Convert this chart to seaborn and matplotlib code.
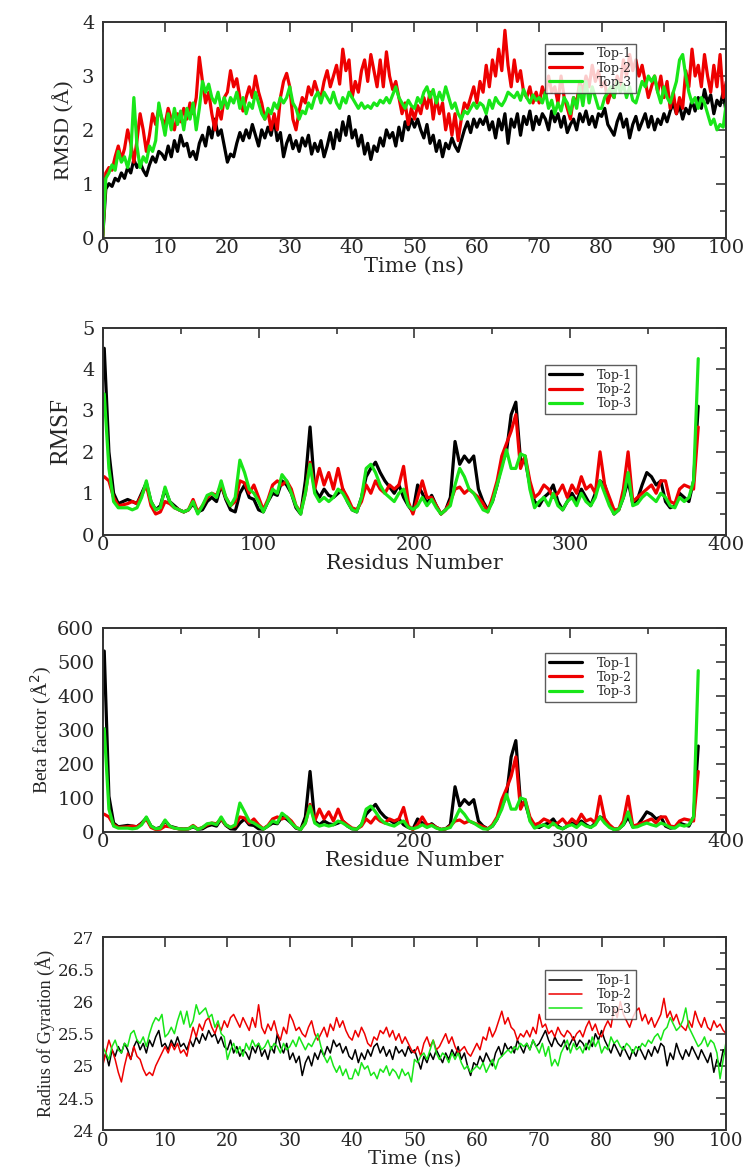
import numpy as np
import pandas as pd
import matplotlib
matplotlib.use("Agg")
import matplotlib.pyplot as plt
from matplotlib.ticker import MultipleLocator, FormatStrFormatter
import seaborn as sns

SERIES = ["Top-1", "Top-2", "Top-3"]
COLORS = {"Top-1": "#000000", "Top-2": "#ee0000", "Top-3": "#19e619"}

# RMSD (A), one value every 0.5 ns from 0 to 100 ns
rmsd_top1 = [
    0.0, 0.9, 1.0, 0.95, 1.1, 1.05, 1.2, 1.1, 1.3, 1.2, 1.45, 1.3, 1.4, 1.25, 1.15, 1.35, 1.5, 1.4, 1.6, 1.55,
    1.45, 1.7, 1.5, 1.8, 1.6, 1.9, 1.7, 1.75, 1.5, 1.6, 1.45, 1.75, 1.9, 1.7, 2.05, 1.85, 2.2, 1.9, 2.0, 1.7,
    1.4, 1.55, 1.5, 1.75, 1.95, 1.8, 2.0, 1.85, 2.1, 1.9, 1.7, 2.0, 1.85, 2.05, 1.9, 2.2, 1.8, 1.95, 1.5, 1.75,
    1.9, 1.65, 1.8, 1.6, 1.85, 1.7, 1.9, 1.55, 1.75, 1.6, 1.8, 1.5, 1.7, 1.95, 1.65, 2.0, 1.8, 2.15, 1.9, 2.25,
    1.85, 2.0, 1.7, 1.9, 1.55, 1.75, 1.45, 1.7, 1.6, 1.85, 1.7, 2.0, 1.85, 1.95, 1.7, 2.05, 1.8, 2.15, 2.0, 2.2,
    2.05, 2.2, 2.0, 1.85, 2.1, 1.75, 1.9, 1.6, 1.8, 1.5, 1.75, 1.65, 1.85, 1.7, 1.6, 1.8, 2.0, 2.15, 1.95, 2.2,
    2.05, 2.2, 2.1, 2.25, 2.0, 2.15, 1.85, 2.2, 2.0, 2.3, 1.75, 2.2, 2.05, 2.3, 1.9, 2.25, 2.1, 2.35, 2.0, 2.25,
    2.1, 2.3, 2.2, 2.0, 2.35, 2.15, 2.3, 2.05, 2.25, 1.95, 2.1, 2.2, 2.0, 2.3, 2.15, 2.35, 2.1, 2.25, 2.05, 2.3,
    2.25, 2.4, 2.1, 2.0, 1.9, 2.15, 2.3, 2.05, 2.2, 1.85, 2.1, 2.25, 2.0, 2.15, 2.3, 2.05, 2.25, 2.0, 2.2, 2.1,
    2.3, 2.15, 2.35, 2.5, 2.3, 2.45, 2.2, 2.4, 2.3, 2.55, 2.35, 2.6, 2.4, 2.75, 2.5, 2.65, 2.3, 2.55, 2.45, 2.7,
    2.3]
rmsd_top2 = [
    0.0, 1.2, 1.3, 1.25, 1.5, 1.7, 1.45, 1.65, 2.0, 1.75, 1.4, 1.8, 2.3, 2.0, 1.6, 1.9, 2.3, 2.1, 2.4, 2.2,
    2.1, 2.4, 2.2, 2.0, 2.3, 2.15, 2.4, 2.2, 2.5, 2.3, 2.6, 3.35, 2.9, 2.5, 2.7, 2.3, 2.0, 2.4, 2.2, 2.6,
    2.7, 3.1, 2.8, 2.95, 2.6, 2.35, 2.6, 2.8, 2.6, 3.0, 2.7, 2.5, 2.2, 2.35, 2.0, 2.3, 2.0, 2.6, 2.9, 3.05,
    2.8, 2.2, 2.0, 2.35, 2.6, 2.5, 2.8, 2.65, 2.9, 2.7, 2.6, 2.9, 3.1, 2.8, 3.0, 3.2, 2.85, 3.5, 3.1, 3.3,
    2.6, 2.9, 2.7, 3.1, 3.3, 2.9, 3.4, 3.1, 2.8, 3.3, 2.8, 3.45, 3.0, 2.75, 2.9, 2.6, 2.3, 2.5, 2.1, 2.4,
    2.2, 2.45, 2.3, 2.6, 2.4, 2.7, 2.2, 2.6, 2.3, 2.5, 2.0, 2.3, 1.9, 2.3, 1.8, 2.2, 2.5, 2.4, 2.6, 2.8,
    2.5, 2.9, 2.7, 3.2, 2.8, 3.3, 3.0, 3.5, 3.1, 3.85, 3.2, 2.8, 3.3, 2.9, 3.1, 2.7, 2.6, 2.8, 2.5, 2.7,
    2.5, 2.8, 2.6, 3.0, 2.7, 2.8, 2.5, 3.0, 2.6, 2.4, 2.2, 2.6, 2.5, 2.9, 2.7, 3.0, 2.8, 3.2, 2.9, 3.1,
    2.8, 2.9, 2.5, 2.7, 2.6, 3.0, 2.8, 3.3, 3.0, 3.4, 3.1, 3.3, 3.0, 3.2, 2.9, 2.6, 2.8, 3.0, 2.7, 3.0,
    2.6, 2.9, 2.4, 2.7, 2.3, 2.6, 2.4, 3.1, 2.8, 3.5, 3.0, 3.2, 2.8, 3.4, 3.0, 2.7, 3.2, 2.8, 3.4, 2.6,
    2.9]
rmsd_top3 = [
    0.0, 1.1, 1.2, 1.35, 1.25, 1.6, 1.4, 1.5, 1.3, 1.55, 2.6, 1.7, 1.3, 1.5, 1.4, 1.7, 1.6, 1.8, 2.5, 2.2,
    1.9, 2.3, 2.0, 2.4, 2.1, 2.35, 2.0, 2.4, 2.2, 2.5, 2.0, 2.4, 2.9, 2.7, 2.85, 2.6, 2.5, 2.7, 2.4, 2.6,
    2.4, 2.6, 2.5, 2.7, 2.4, 2.6, 2.3, 2.5, 2.4, 2.7, 2.5, 2.3, 2.2, 2.4, 2.3, 2.5, 2.4, 2.6, 2.5, 2.6,
    2.8, 2.5, 2.4, 2.2, 2.35, 2.3, 2.5, 2.4, 2.6, 2.7, 2.5, 2.7, 2.6, 2.5, 2.7, 2.5, 2.4, 2.6, 2.5, 2.7,
    2.6, 2.5, 2.4, 2.5, 2.4, 2.45, 2.4, 2.5, 2.45, 2.55, 2.5, 2.6, 2.5, 2.65, 2.8, 2.6, 2.5, 2.4, 2.55, 2.45,
    2.4, 2.6, 2.5, 2.7, 2.8, 2.6, 2.75, 2.5, 2.7, 2.55, 2.8, 2.6, 2.4, 2.5, 2.3, 2.2, 2.35, 2.3, 2.4, 2.5,
    2.4, 2.5, 2.45, 2.3, 2.55, 2.4, 2.6, 2.5, 2.45, 2.55, 2.7, 2.65, 2.6, 2.7, 2.55, 2.75, 2.6, 2.5, 2.65, 2.55,
    2.6, 2.5, 2.7, 2.4, 2.55, 2.3, 2.5, 2.35, 2.6, 2.5, 2.3, 2.6, 2.4, 2.8, 2.45, 2.9, 2.5, 2.8, 2.6, 2.4,
    2.4, 2.6, 2.7, 2.8, 2.6, 2.9, 2.7, 2.85, 2.6, 2.8, 2.55, 2.5, 2.7, 2.9, 2.8, 3.0, 2.9, 3.0, 2.7, 2.5,
    2.8, 2.6, 2.5, 2.7, 2.9, 3.3, 3.4, 3.0, 2.7, 2.5, 2.6, 2.4, 2.6, 2.5, 2.3, 2.1, 2.2, 2.0, 2.1, 2.05,
    2.5]

# RMSF, one value every 3 residues (1, 4, ..., 382)
residues = list(range(1, 383, 3))
rmsf_top1 = [
    4.5, 2.0, 1.0, 0.75, 0.8, 0.85, 0.8, 0.75, 1.0, 1.25,
    0.8, 0.6, 0.7, 1.1, 0.8, 0.7, 0.6, 0.55, 0.6, 0.75,
    0.55, 0.6, 0.8, 0.9, 0.8, 1.2, 0.85, 0.6, 0.55, 1.0,
    1.2, 0.9, 0.85, 0.6, 0.55, 0.8, 1.0, 0.95, 1.3, 1.2,
    1.0, 0.65, 0.5, 1.3, 2.6, 1.1, 0.9, 1.1, 0.95, 0.9,
    1.0, 1.1, 0.8, 0.6, 0.55, 0.9, 1.4, 1.6, 1.75, 1.5,
    1.3, 1.15, 1.0, 1.2, 0.9, 0.7, 0.55, 1.2, 1.0, 0.75,
    0.95, 0.7, 0.5, 0.6, 0.9, 2.25, 1.7, 1.9, 1.75, 1.9,
    1.1, 0.8, 0.6, 0.8, 1.2, 1.7, 2.0, 2.9, 3.2, 1.8,
    1.8, 1.2, 0.8, 0.7, 0.9, 1.0, 1.2, 0.8, 0.6, 0.8,
    1.0, 0.8, 1.1, 0.9, 0.7, 1.0, 1.3, 1.2, 0.8, 0.5,
    0.6, 0.9, 1.3, 0.75, 0.85, 1.2, 1.5, 1.4, 1.2, 1.3,
    0.8, 0.65, 0.7, 1.0, 0.9, 0.8, 1.3, 3.1]
rmsf_top2 = [
    1.4, 1.3, 0.9, 0.7, 0.72, 0.75, 0.8, 0.75, 0.95, 1.2,
    0.7, 0.5, 0.55, 0.8, 0.75, 0.65, 0.6, 0.55, 0.6, 0.85,
    0.55, 0.7, 0.9, 1.0, 0.95, 1.2, 0.9, 0.7, 0.8, 1.3,
    1.25, 1.0, 1.2, 0.9, 0.6, 0.85, 1.2, 1.3, 1.2, 1.3,
    1.1, 0.7, 0.55, 1.0, 1.75, 1.1, 1.6, 1.2, 1.5, 1.1,
    1.6, 1.1, 0.9, 0.65, 0.6, 0.8, 1.2, 1.0, 1.3, 1.1,
    1.0, 1.2, 1.1, 1.2, 1.65, 0.8, 0.5, 0.9, 1.3, 0.9,
    0.9, 0.7, 0.5, 0.6, 0.8, 1.1, 1.15, 1.0, 1.1, 1.0,
    0.9, 0.75, 0.55, 0.9, 1.3, 1.9, 2.2, 2.5, 2.9, 1.6,
    1.9, 1.3, 0.9, 1.0, 1.2, 1.1, 0.9, 1.0, 1.2, 0.9,
    1.2, 1.0, 1.4, 1.1, 1.2, 1.0, 2.0, 1.2, 0.9, 0.6,
    0.6, 1.1, 2.0, 0.8, 0.9, 1.0, 1.1, 1.2, 1.0, 1.3,
    1.3, 0.8, 0.75, 1.1, 1.2, 1.15, 1.1, 2.6]
rmsf_top3 = [
    3.4, 1.6, 0.8, 0.65, 0.65, 0.65, 0.6, 0.65, 0.9, 1.3,
    0.8, 0.6, 0.65, 1.15, 0.8, 0.65, 0.6, 0.55, 0.6, 0.8,
    0.5, 0.7, 0.95, 1.0, 0.9, 1.3, 0.9, 0.7, 0.9, 1.8,
    1.5, 1.1, 1.0, 0.8, 0.55, 0.8, 1.1, 1.0, 1.45, 1.3,
    1.0, 0.7, 0.5, 1.0, 1.7, 1.0, 0.8, 0.9, 0.8, 0.9,
    1.1, 1.0, 0.8, 0.6, 0.55, 0.9, 1.6, 1.7, 1.5, 1.2,
    1.0, 0.9, 0.8, 1.0, 1.1, 0.7, 0.6, 0.7, 0.9, 0.7,
    0.85, 0.65, 0.5, 0.6, 0.7, 1.2, 1.6, 1.4, 1.1, 1.0,
    0.8, 0.6, 0.55, 0.8, 1.2, 1.6, 2.05, 1.6, 1.6, 1.95,
    1.9, 1.1, 0.65, 0.8, 0.9, 0.7, 1.0, 0.7, 0.6, 0.8,
    0.9, 0.7, 1.0, 0.8, 0.7, 0.9, 1.3, 1.0, 0.7, 0.5,
    0.6, 0.9, 1.5, 0.7, 0.75, 0.9, 1.0, 0.9, 0.8, 1.0,
    0.9, 0.7, 0.65, 0.9, 0.8, 0.9, 1.3, 4.25]

# Beta factor (A^2), same residues
beta_top1 = [
    533, 105, 26, 15, 17, 19, 17, 15, 26, 41,
    17, 9, 13, 32, 17, 13, 9, 8, 9, 15,
    8, 9, 17, 21, 17, 38, 19, 9, 8, 26,
    38, 21, 19, 9, 8, 17, 26, 24, 44, 38,
    26, 11, 7, 44, 178, 32, 21, 32, 24, 21,
    26, 32, 17, 9, 8, 21, 52, 67, 81, 59,
    44, 35, 26, 38, 21, 13, 8, 38, 26, 15,
    24, 13, 7, 9, 21, 133, 76, 95, 81, 95,
    32, 17, 9, 17, 38, 76, 105, 221, 269, 85,
    85, 38, 17, 13, 21, 26, 38, 17, 9, 17,
    26, 17, 32, 21, 13, 26, 44, 38, 17, 7,
    9, 21, 44, 15, 19, 38, 59, 52, 38, 44,
    17, 11, 13, 26, 21, 17, 44, 253]
beta_top2 = [
    52, 44, 21, 13, 14, 15, 17, 15, 24, 38,
    13, 7, 8, 17, 15, 11, 9, 8, 9, 19,
    8, 13, 21, 26, 24, 38, 21, 13, 17, 44,
    41, 26, 38, 21, 9, 19, 38, 44, 38, 44,
    32, 13, 8, 26, 81, 32, 67, 38, 59, 32,
    67, 32, 21, 11, 9, 17, 38, 26, 44, 32,
    26, 38, 32, 38, 72, 17, 7, 21, 44, 21,
    21, 13, 7, 9, 17, 32, 35, 26, 32, 26,
    21, 15, 8, 21, 44, 95, 127, 164, 221, 67,
    95, 44, 21, 26, 38, 32, 21, 26, 38, 21,
    38, 26, 52, 32, 38, 26, 105, 38, 21, 9,
    9, 32, 105, 17, 21, 26, 32, 38, 26, 44,
    44, 17, 15, 32, 38, 35, 32, 178]
beta_top3 = [
    304, 67, 17, 11, 11, 11, 9, 11, 21, 44,
    17, 9, 11, 35, 17, 11, 9, 8, 9, 17,
    7, 13, 24, 26, 21, 44, 21, 13, 21, 85,
    59, 32, 26, 17, 8, 17, 32, 26, 55, 44,
    26, 13, 7, 26, 76, 26, 17, 21, 17, 21,
    32, 26, 17, 9, 8, 21, 67, 76, 59, 38,
    26, 21, 17, 26, 32, 13, 9, 13, 21, 13,
    19, 11, 7, 9, 13, 38, 67, 52, 32, 26,
    17, 9, 8, 17, 38, 67, 111, 67, 67, 100,
    95, 32, 11, 17, 21, 13, 26, 13, 9, 17,
    21, 13, 26, 17, 13, 21, 44, 26, 13, 7,
    9, 21, 59, 13, 15, 21, 26, 21, 17, 26,
    21, 13, 11, 21, 17, 21, 44, 475]

# Radius of gyration (A), one value every 0.5 ns
rg_top1 = [
    25.05, 25.2, 25.0, 25.25, 25.15, 25.3, 25.2, 25.35, 25.25, 25.1, 25.3, 25.4, 25.25, 25.35, 25.2, 25.4, 25.3, 25.45, 25.55, 25.3,
    25.35, 25.25, 25.4, 25.3, 25.45, 25.3, 25.35, 25.25, 25.4, 25.3, 25.45, 25.35, 25.5, 25.4, 25.55, 25.45, 25.5, 25.35, 25.45, 25.3,
    25.25, 25.4, 25.2, 25.3, 25.15, 25.25, 25.2, 25.1, 25.3, 25.2, 25.35, 25.15, 25.25, 25.1, 25.3, 25.2, 25.5, 25.3, 25.2, 25.35,
    25.1, 25.2, 25.05, 25.15, 24.85, 25.05, 25.15, 25.0, 25.2, 25.1, 25.25, 25.15, 25.3, 25.2, 25.4, 25.3, 25.35, 25.2, 25.3, 25.15,
    25.1, 25.25, 25.05, 25.2, 25.1, 25.25, 25.15, 25.3, 25.35, 25.2, 25.3, 25.15, 25.25, 25.1, 25.3, 25.2, 25.25, 25.15, 25.3, 25.2,
    25.25, 25.1, 24.95, 25.15, 25.05, 25.2, 25.1, 25.25, 25.15, 25.05, 25.2, 25.1, 25.25, 25.15, 25.3, 25.1, 25.2, 25.0, 24.85, 25.05,
    25.0, 25.15, 25.05, 25.2, 25.1, 25.0, 25.2, 25.3, 25.15, 25.35, 25.25, 25.3, 25.2, 25.4, 25.3, 25.2, 25.35, 25.25, 25.4, 25.3,
    25.35, 25.45, 25.55, 25.4, 25.3, 25.45, 25.35, 25.3, 25.4, 25.25, 25.35, 25.45, 25.3, 25.4, 25.35, 25.25, 25.4, 25.3, 25.5, 25.4,
    25.55, 25.4, 25.3, 25.2, 25.35, 25.25, 25.15, 25.3, 25.2, 25.1, 25.25, 25.15, 25.3, 25.2, 25.1, 25.25, 25.15, 25.3, 25.2, 25.35,
    25.3, 25.0, 25.2, 25.1, 25.35, 25.2, 25.1, 25.25, 25.15, 25.3, 25.2, 25.1, 25.25, 25.15, 25.05, 25.2, 24.9, 25.1, 25.0, 25.25,
    25.15]
rg_top2 = [
    25.0, 25.2, 25.4, 25.25, 25.1, 24.9, 24.75, 25.0, 25.2, 25.1, 25.3, 25.15, 25.1, 24.95, 24.85, 24.9, 24.85, 25.0, 25.1, 25.2,
    25.3, 25.2, 25.35, 25.25, 25.35, 25.2, 25.25, 25.15, 25.4, 25.6, 25.45, 25.65, 25.55, 25.7, 25.75, 25.6, 25.5, 25.65, 25.55, 25.7,
    25.6, 25.75, 25.8, 25.7, 25.6, 25.75, 25.65, 25.55, 25.75, 25.6, 25.95, 25.6, 25.5, 25.65, 25.55, 25.7, 25.5, 25.4, 25.6, 25.5,
    25.8, 25.7, 25.55, 25.6, 25.5, 25.45, 25.6, 25.7, 25.5, 25.4, 25.5, 25.6, 25.45, 25.65, 25.55, 25.75, 25.6, 25.7, 25.55, 25.45,
    25.4, 25.55, 25.45, 25.6, 25.5, 25.35, 25.3, 25.45, 25.4, 25.55, 25.5, 25.6, 25.45, 25.55, 25.4, 25.5, 25.35, 25.45, 25.35, 25.25,
    25.2, 25.3, 25.15, 25.35, 25.45, 25.3, 25.4, 25.25, 25.3, 25.4, 25.5, 25.35, 25.45, 25.3, 25.2, 25.25, 25.3, 25.2, 25.15, 25.25,
    25.35, 25.25, 25.45, 25.4, 25.6, 25.45, 25.55, 25.7, 25.85, 25.65, 25.75, 25.6, 25.55, 25.4, 25.5, 25.45, 25.55, 25.45, 25.6, 25.5,
    25.8, 25.6, 25.65, 25.5, 25.55, 25.45, 25.6, 25.5, 25.45, 25.55, 25.5, 25.4, 25.5, 25.55, 25.45, 25.6, 25.7, 25.55, 25.65, 25.5,
    25.45, 25.6, 25.7, 25.6, 25.9, 25.75, 26.0, 25.8, 25.7, 25.6, 25.75, 25.85, 25.9, 25.7, 25.8, 25.65, 25.75, 25.6, 25.7, 25.8,
    26.05, 25.75, 25.85, 25.7, 25.8, 25.65, 25.6, 25.55, 25.7, 25.6, 25.85, 25.7, 25.6, 25.75, 25.6, 25.55, 25.7, 25.6, 25.65, 25.55,
    25.5]
rg_top3 = [
    25.3, 25.2, 25.1, 25.3, 25.4, 25.25, 25.2, 25.35, 25.3, 25.5, 25.55, 25.4, 25.35, 25.45, 25.3, 25.5, 25.65, 25.75, 25.7, 25.8,
    25.45, 25.5, 25.6, 25.5, 25.7, 25.85, 25.65, 25.85, 25.6, 25.7, 25.95, 25.8, 25.85, 25.9, 25.75, 25.8, 25.6, 25.7, 25.5, 25.45,
    25.1, 25.25, 25.35, 25.2, 25.3, 25.15, 25.35, 25.25, 25.4, 25.3, 25.35, 25.25, 25.3, 25.4, 25.25, 25.35, 25.3, 25.2, 25.35, 25.25,
    25.3, 25.4, 25.3, 25.45, 25.35, 25.25, 25.35, 25.3, 25.4, 25.5, 25.3, 25.15, 25.05, 25.15, 25.0, 24.9, 25.0, 24.85, 24.95, 24.8,
    24.8, 24.95, 24.85, 25.05, 24.95, 25.0, 24.85, 24.9, 24.8, 24.95, 24.9, 25.0, 24.85, 24.95, 24.9, 24.8, 24.95, 24.85, 24.9, 24.75,
    25.1, 25.05, 25.15, 25.2, 25.1, 25.25, 25.4, 25.2, 25.1, 25.2, 25.15, 25.05, 25.2, 25.1, 25.2, 25.05, 24.95, 25.0, 24.9, 24.95,
    25.0, 24.95, 25.05, 24.9, 25.0, 25.1, 24.95, 25.1, 25.15, 25.2, 25.25, 25.2, 25.3, 25.25, 25.35, 25.3, 25.35, 25.25, 25.4, 25.3,
    25.2, 25.35, 25.15, 25.3, 25.0, 25.1, 25.0, 25.2, 25.3, 25.4, 25.2, 25.35, 25.25, 25.3, 25.2, 25.35, 25.25, 25.45, 25.3, 25.4,
    25.2, 25.3, 25.25, 25.45, 25.35, 25.4, 25.3, 25.25, 25.35, 25.3, 25.2, 25.3, 25.25, 25.35, 25.3, 25.4, 25.35, 25.45, 25.5, 25.4,
    25.55, 25.6, 25.75, 25.65, 25.55, 25.6, 25.7, 25.9, 25.6, 25.5, 25.4, 25.3, 25.35, 25.45, 25.3, 25.4, 25.35, 25.2, 24.8, 25.1,
    25.4]


def long_df(x, cols):
    frames = []
    for name, vals in zip(SERIES, cols):
        frames.append(pd.DataFrame({"x": x, "y": vals, "series": name}))
    return pd.concat(frames, ignore_index=True)


def style_axis(ax, xmaj, xmin, ymaj, ymin, size=14, yfmt="%g"):
    ax.xaxis.set_major_locator(MultipleLocator(xmaj))
    ax.xaxis.set_minor_locator(MultipleLocator(xmin))
    ax.yaxis.set_major_locator(MultipleLocator(ymaj))
    ax.yaxis.set_minor_locator(MultipleLocator(ymin))
    ax.yaxis.set_major_formatter(FormatStrFormatter(yfmt))
    ax.tick_params(which="both", direction="in", top=True, right=True, width=1.1)
    ax.tick_params(which="major", length=7, labelsize=size)
    ax.tick_params(axis="x", which="major", pad=1)
    ax.tick_params(axis="y", which="major", pad=6)
    ax.tick_params(which="minor", length=4)
    for lab in ax.get_xticklabels() + ax.get_yticklabels():
        lab.set_family("DejaVu Serif")
    for sp in ax.spines.values():
        sp.set_linewidth(1.4)
        sp.set_color("#333333")


def add_legend(ax, anchor, lw):
    handles = [plt.Line2D([], [], color=COLORS[s], lw=lw) for s in SERIES]
    leg = ax.legend(handles, SERIES, loc="upper left", bbox_to_anchor=anchor,
                    frameon=True, fancybox=False, handlelength=2.6,
                    handletextpad=1.2, borderpad=0.3, labelspacing=0.1,
                    prop={"family": "DejaVu Serif", "size": 9})
    leg.get_frame().set_edgecolor("#333333")
    leg.get_frame().set_linewidth(1.0)


sns.set_theme(style="white")
plt.rcParams["font.family"] = ["Liberation Serif", "DejaVu Serif"]

fig = plt.figure(figsize=(7.55, 11.7), dpi=100)
ax1 = fig.add_axes([0.136, 0.797, 0.826, 0.184])
ax2 = fig.add_axes([0.136, 0.543, 0.826, 0.177])
ax3 = fig.add_axes([0.136, 0.289, 0.826, 0.174])
ax4 = fig.add_axes([0.136, 0.034, 0.826, 0.165])

t = np.linspace(0, 100, len(rmsd_top1))
t_rg = np.linspace(0, 100, len(rg_top1))

panels = [
    (ax1, long_df(t, [rmsd_top1, rmsd_top2, rmsd_top3]), 2.3),
    (ax2, long_df(residues, [rmsf_top1, rmsf_top2, rmsf_top3]), 2.3),
    (ax3, long_df(residues, [beta_top1, beta_top2, beta_top3]), 2.3),
    (ax4, long_df(t_rg, [rg_top1, rg_top2, rg_top3]), 1.1),
]
for ax, df, lw in panels:
    sns.lineplot(data=df, x="x", y="y", hue="series", palette=COLORS,
                 estimator=None, sort=False, linewidth=lw, legend=False, ax=ax)

# RMSD
ax1.set_xlim(0, 100)
ax1.set_ylim(0, 4)
style_axis(ax1, 10, 10, 1, 0.5)
ax1.set_xlabel("Time (ns)", family="DejaVu Serif", fontsize=15, labelpad=0)
ax1.set_ylabel("RMSD (Å)", fontsize=16, labelpad=5)
add_legend(ax1, (0.70, 0.93), 2.3)

# RMSF
ax2.set_xlim(0, 400)
ax2.set_ylim(0, 5)
style_axis(ax2, 100, 50, 1, 0.5)
ax2.set_xlabel("Residus Number", family="DejaVu Serif", fontsize=15, labelpad=0)
ax2.set_ylabel("RMSF", fontsize=18, labelpad=7)
add_legend(ax2, (0.70, 0.85), 2.3)

# Beta factor
ax3.set_xlim(0, 400)
ax3.set_ylim(0, 600)
style_axis(ax3, 100, 50, 100, 50)
ax3.set_xlabel("Residue Number", family="DejaVu Serif", fontsize=15, labelpad=0)
ax3.set_ylabel("Beta factor (Å$^2$)", fontsize=14, labelpad=2)
add_legend(ax3, (0.70, 0.91), 2.3)

# Radius of gyration
ax4.set_xlim(0, 100)
ax4.set_ylim(24, 27)
style_axis(ax4, 10, 10, 0.5, 0.25, size=13)
ax4.tick_params(axis="y", labelsize=12)
ax4.set_xlabel("Time (ns)", family="DejaVu Serif", fontsize=14, labelpad=0)
ax4.set_ylabel("Radius of Gyration (Å)", fontsize=13, labelpad=2)
add_legend(ax4, (0.70, 0.86), 1.1)

fig.savefig("out.png", dpi=100)
